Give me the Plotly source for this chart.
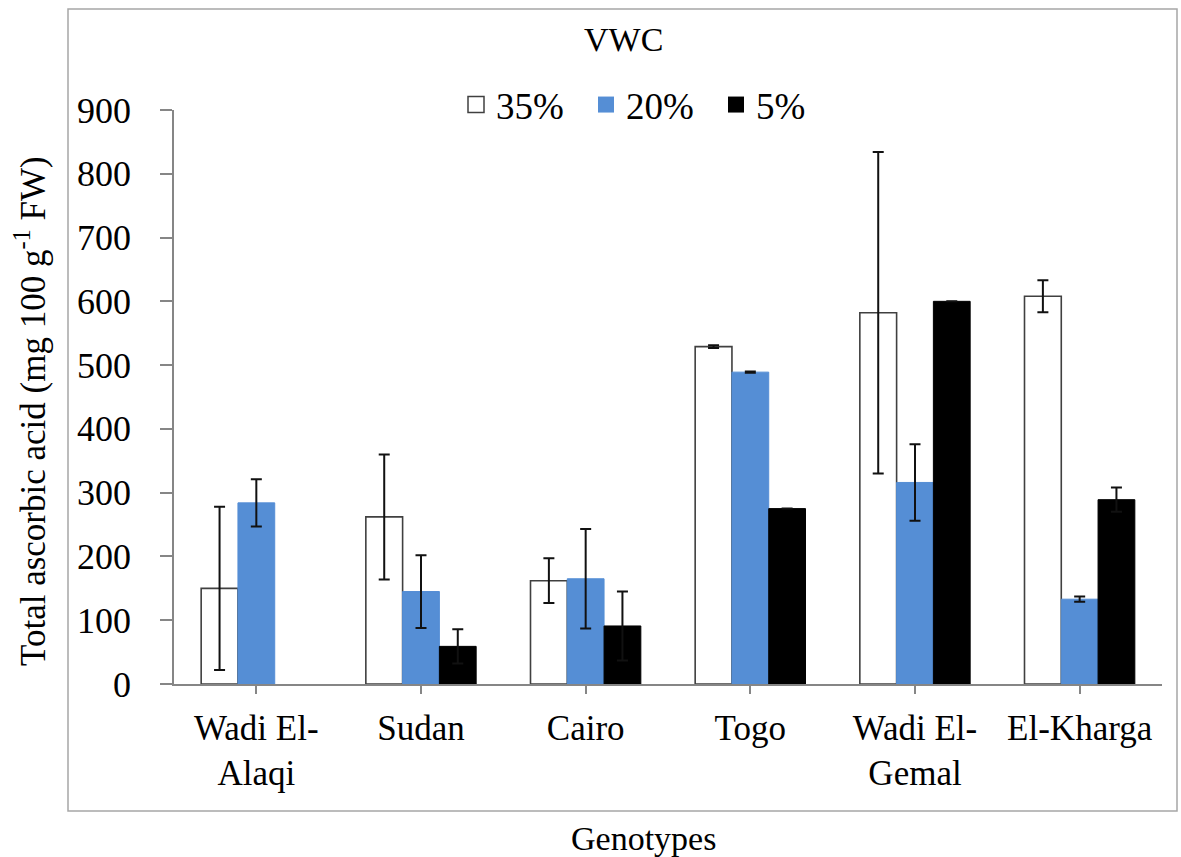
import plotly.graph_objects as go

# Genotypes on the category axis
genotypes = ["Wadi El-<br>Alaqi", "Sudan", "Cairo", "Togo", "Wadi El-<br>Gemal", "El-Kharga"]

# Total ascorbic acid (mg 100 g-1 FW) per volumetric water content level
vwc_35 = [150, 262, 162, 529, 582, 608]
vwc_20 = [284, 145, 165, 489, 316, 133]
vwc_5 = [None, 59, 91, 275, 600, 289]

# Standard errors
err_35 = [128, 98, 35, 2, 252, 25]
err_20 = [37, 57, 78, 1, 60, 4]
err_5 = [0, 27, 54, 0, 0, 19]

series_names = ["35%", "20%", "5%"]

FONT = "Liberation Serif, Times New Roman, serif"
L, R, T, B = 174, 19, 110, 173
W, H = 1181, 857
PW = W - L - R
PH = H - T - B


def px_x(px):
    return (px - L) / PW


def px_y(py):
    return (H - B - py) / PH


err_style = dict(type="data", visible=True, color="#111111", thickness=2, width=5.5)

fills = ["white", "#558ED5", "black"]
edges = ["#404040", "#558ED5", "black"]
values = [vwc_35, vwc_20, vwc_5]
errors = [err_35, err_20, err_5]

fig = go.Figure()
for name, fill, edge, vals, errs in zip(series_names, fills, edges, values, errors):
    fig.add_trace(go.Bar(
        name=name, x=genotypes, y=vals, legendgroup=name, showlegend=False,
        marker=dict(color=fill, line=dict(color=edge, width=1.6 if fill == "white" else 1)),
        error_y=dict(array=errs, **err_style),
    ))

# larger square swatches for the legend
for name, fill, edge in zip(series_names, fills, edges):
    fig.add_trace(go.Scatter(
        name=name, x=[None], y=[None], mode="markers", legendgroup=name,
        marker=dict(symbol="square", size=16, color=fill,
                    line=dict(color=edge, width=1.5 if fill == "white" else 0)),
    ))

fig.update_layout(
    width=W, height=H,
    margin=dict(l=L, r=R, t=T, b=B, autoexpand=False),
    paper_bgcolor="white", plot_bgcolor="white",
    barmode="group", bargap=0.33, bargroupgap=0,
    font=dict(family=FONT, color="black", size=36),
    showlegend=True,
    legend=dict(
        orientation="h", x=px_x(456), xanchor="left",
        y=px_y(105), yanchor="middle",
        font=dict(family=FONT, size=37, color="black"),
        bgcolor="rgba(0,0,0,0)", itemclick=False, itemdoubleclick=False,
        entrywidth=85, entrywidthmode="pixels",
    ),
    xaxis=dict(
        showline=True, linecolor="#868686", linewidth=1.5,
        ticks="outside", ticklen=8, tickcolor="#868686", tickwidth=1.5,
        ticklabelstandoff=4,
        tickfont=dict(family=FONT, size=35, color="black"),
        showgrid=False, zeroline=False,
    ),
    yaxis=dict(
        range=[0, 900], dtick=100, tick0=0,
        showline=True, linecolor="#868686", linewidth=1.5,
        ticks="outside", ticklen=12, tickcolor="#868686", tickwidth=1.5,
        ticklabelstandoff=22,
        tickfont=dict(family=FONT, size=36, color="black"),
        showgrid=False, zeroline=False,
    ),
    annotations=[
        dict(text="VWC", x=px_x(623), y=px_y(40), xref="paper", yref="paper",
             showarrow=False, xanchor="center", yanchor="middle",
             font=dict(family=FONT, size=34, color="black")),
        dict(text="Genotypes", x=px_x(643), y=px_y(838), xref="paper", yref="paper",
             showarrow=False, xanchor="center", yanchor="middle",
             font=dict(family=FONT, size=34, color="black")),
        dict(text="Total ascorbic acid (mg 100 g<sup>-1</sup> FW)",
             x=px_x(30), y=px_y(411), xref="paper", yref="paper",
             showarrow=False, xanchor="center", yanchor="middle", textangle=-90,
             font=dict(family=FONT, size=35, color="black")),
    ],
    shapes=[
        # chart-area border
        dict(type="rect", xref="paper", yref="paper",
             x0=px_x(68), x1=px_x(1177), y0=px_y(811), y1=px_y(9),
             line=dict(color="#a6a6a6", width=1.5), fillcolor="rgba(0,0,0,0)", layer="below"),
        # value axis continues slightly below the category axis
        dict(type="line", xref="paper", yref="y", ysizemode="pixel", yanchor=0,
             x0=0, x1=0, y0=0, y1=-11, line=dict(color="#868686", width=1.5)),
    ],
)

fig.write_html("out.html")
